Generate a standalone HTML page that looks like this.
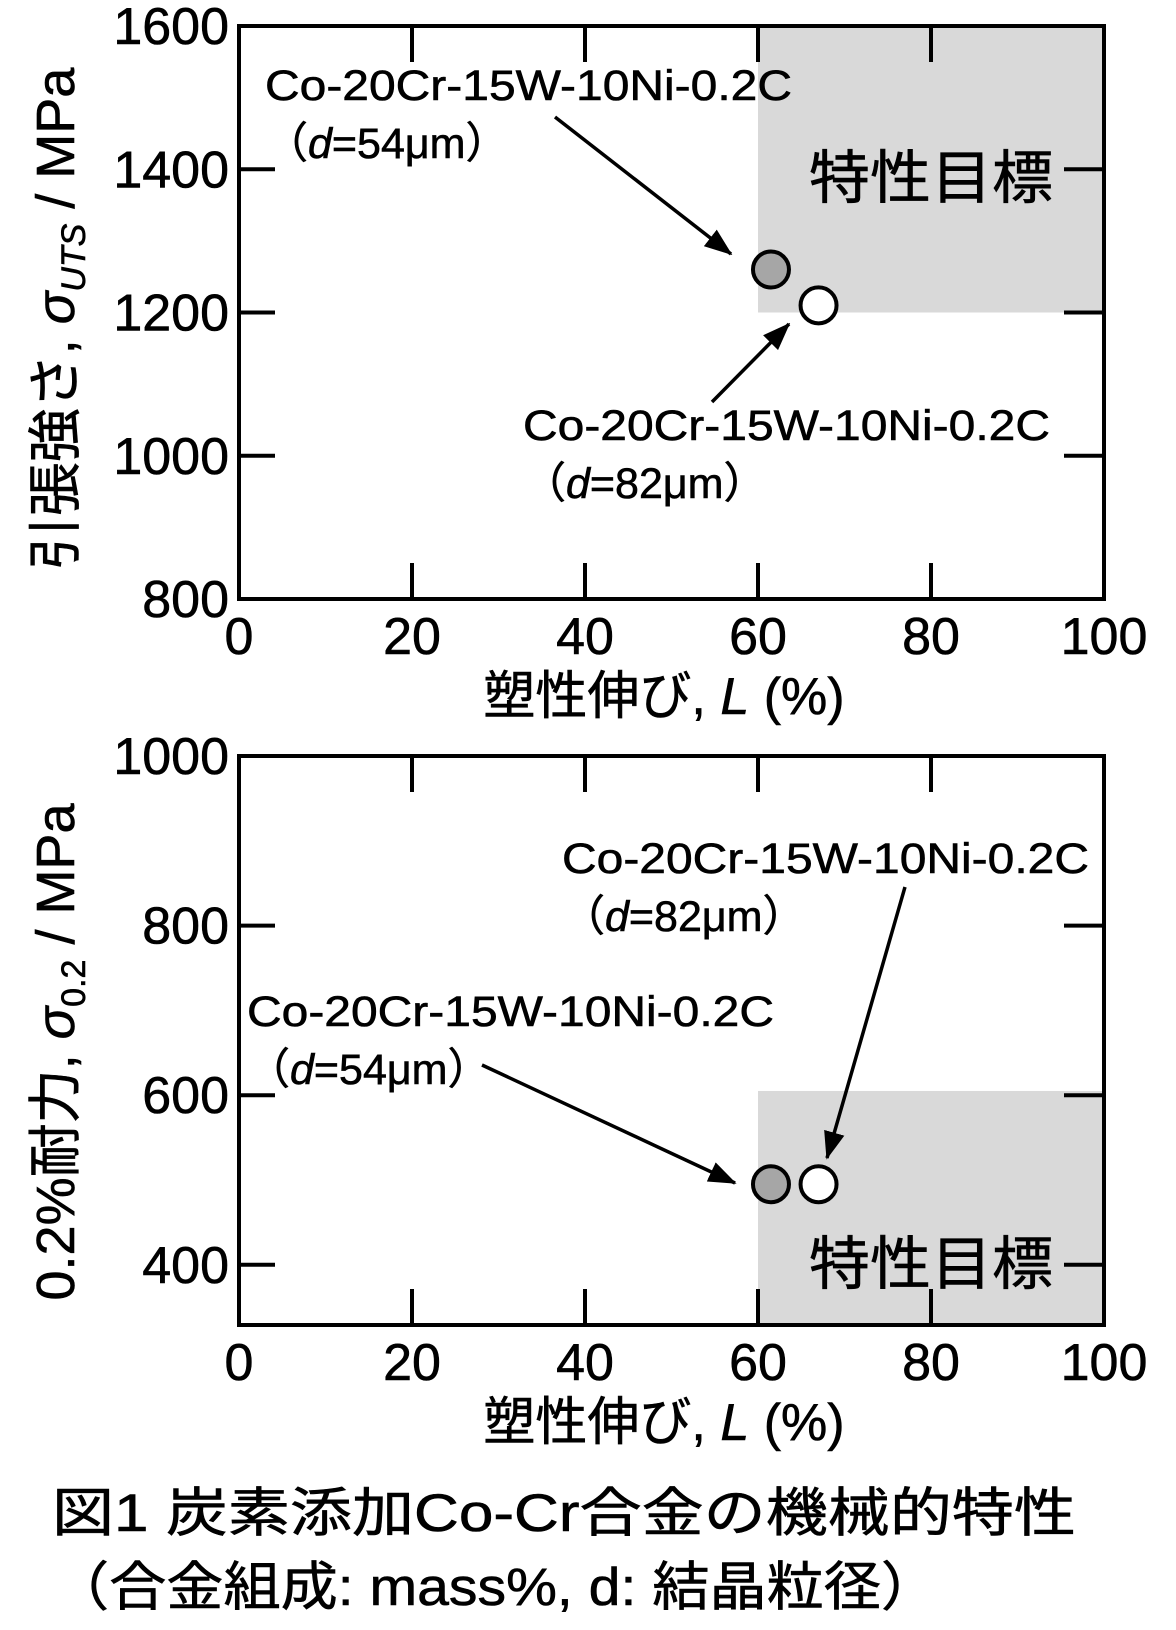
<!DOCTYPE html>
<html><head><meta charset="utf-8"><style>
html,body{margin:0;padding:0;background:#fff;}
svg{display:block;}
text{font-family:"Liberation Sans","Noto Sans CJK JP",sans-serif;fill:#000;stroke:#000;stroke-width:0.6;}
</style></head><body>
<svg id="fig" width="1176" height="1630" viewBox="0 0 1176 1630" xmlns="http://www.w3.org/2000/svg">
<defs><marker id="ah" markerWidth="8" markerHeight="6" refX="7.5" refY="3" orient="auto" markerUnits="strokeWidth"><path d="M0,0 L8,3 L0,6 Z" fill="#000"/></marker></defs>
<g id="c1"></g>
<g id="c2"></g>
<text x="52" y="1531" font-size="53" textLength="1024" lengthAdjust="spacingAndGlyphs">図1 炭素添加Co-Cr合金の機械的特性</text>
<text x="52" y="1605" font-size="53" textLength="886" lengthAdjust="spacingAndGlyphs">（合金組成: mass%, d: 結晶粒径）</text>
</svg>
<script>
// Data
const xTicks = [0, 20, 40, 60, 80, 100];
const yTicksTop = [800, 1000, 1200, 1400, 1600];
const yTicksBottom = [400, 600, 800, 1000];
const elongation = [61.5, 67.0];
const uts = [1260, 1210];
const proof = [495, 495];
const pointFill = ['#a6a6a6', '#ffffff'];
const targetTop = [60, 100, 1200, 1600];
const targetBottom = [60, 100, 329, 605];

const NS = 'http://www.w3.org/2000/svg';
function mk(parent, tag, attrs, txt) {
  const e = document.createElementNS(NS, tag);
  for (const k in attrs) e.setAttribute(k, attrs[k]);
  if (txt !== undefined) e.textContent = txt;
  parent.appendChild(e);
  return e;
}
function chart(g, cfg) {
  const L = 239, R = 1104;
  const sx = v => L + (v - 0) / 100 * (R - L);
  const sy = v => cfg.bot - (v - cfg.ymin) / (cfg.ymax - cfg.ymin) * (cfg.bot - cfg.top);
  const t = cfg.target;
  let r = mk(g, 'rect', {x: sx(t[0]), y: sy(t[3]), width: sx(t[1]) - sx(t[0]), height: sy(t[2]) - sy(t[3]), fill: '#d9d9d9'});
  
  
  let tt = mk(g, 'text', {x: 809, y: cfg.targetY, 'font-size': 58, textLength: 244, lengthAdjust: 'spacingAndGlyphs'}, '特性目標');
  
  
  xTicks.forEach(v => {
    const x = sx(v);
    if (v > 0 && v < 100) {
      mk(g, 'line', {x1: x, x2: x, y1: cfg.top, y2: cfg.top + 36, stroke: '#000', 'stroke-width': 4});
      mk(g, 'line', {x1: x, x2: x, y1: cfg.bot, y2: cfg.bot - 36, stroke: '#000', 'stroke-width': 4});
    }
    const lb = mk(g, 'text', {x: x, y: cfg.bot + 55, 'font-size': 52, 'text-anchor': 'middle'}, String(v));
    
    
  });
  cfg.yticks.forEach(v => {
    const y = sy(v);
    if (v > cfg.ymin && v < cfg.ymax) {
      mk(g, 'line', {x1: L, x2: L + 36, y1: y, y2: y, stroke: '#000', 'stroke-width': 4});
      mk(g, 'line', {x1: R, x2: R - 40, y1: y, y2: y, stroke: '#000', 'stroke-width': 4});
    }
    const lb = mk(g, 'text', {x: 229, y: y + 18, 'font-size': 52, 'text-anchor': 'end'}, String(v));
    
    
  });
  const fr = mk(g, 'rect', {x: L, y: cfg.top, width: R - L, height: cfg.bot - cfg.top, fill: 'none', stroke: '#000', 'stroke-width': 4});
  
  
  cfg.notes.forEach(n => {
    const a = mk(g, 'text', {x: n.x, y: n.y + 15, 'font-size': 43, textLength: 527, lengthAdjust: 'spacingAndGlyphs'}, 'Co-20Cr-15W-10Ni-0.2C');
    
    
    const b = mk(g, 'text', {x: n.x, y: n.y + 73, 'font-size': 43});
    
    
    mk(b, 'tspan', {}, '（');
    mk(b, 'tspan', {'font-style': 'italic'}, 'd');
    mk(b, 'tspan', {}, '=' + n.d + 'μm）');
    const ar = mk(g, 'line', {x1: n.a[0], y1: n.a[1], x2: n.a[2], y2: n.a[3], stroke: '#000', 'stroke-width': 3.5, 'marker-end': 'url(#ah)'});
    
    
  });
  elongation.forEach((xv, i) => {
    const c = mk(g, 'circle', {cx: sx(xv), cy: sy(cfg.vals[i]), r: 18, fill: pointFill[i], stroke: '#000', 'stroke-width': 4});
    
    
  });
  const xt = mk(g, 'text', {x: 664, y: cfg.bot + 115, 'font-size': 52, 'text-anchor': 'middle'});
  
  
  mk(xt, 'tspan', {}, '塑性伸び, ');
  mk(xt, 'tspan', {'font-style': 'italic'}, 'L');
  mk(xt, 'tspan', {}, ' (%)');
  const yt = mk(g, 'text', {x: 0, y: 0, 'font-size': 54, 'text-anchor': 'middle', transform: 'translate(74,' + cfg.ytitleY + ') rotate(-90)'});
  
  
  mk(yt, 'tspan', {}, cfg.yPre);
  mk(yt, 'tspan', {'font-style': 'italic'}, 'σ');
  mk(yt, 'tspan', {'font-size': 34, dy: 11, 'font-style': cfg.subItalic ? 'italic' : 'normal'}, cfg.sub);
  mk(yt, 'tspan', {dy: -11}, ' / MPa');
}
chart(document.getElementById('c1'), {
  top: 26, bot: 599, ymin: 800, ymax: 1600, yticks: yTicksTop, vals: uts, target: targetTop, targetY: 198,
  yPre: '引張強さ, ', sub: 'UTS', subItalic: true, ytitleY: 319,
  notes: [
    {x: 265, y: 85, d: 54, a: [555, 117, 731, 254]},
    {x: 523, y: 425, d: 82, a: [712, 402, 789, 324]}
  ]
});
chart(document.getElementById('c2'), {
  top: 756, bot: 1325, ymin: 329, ymax: 1000, yticks: yTicksBottom, vals: proof, target: targetBottom, targetY: 1284,
  yPre: '0.2%耐力, ', sub: '0.2', subItalic: false, ytitleY: 1052,
  notes: [
    {x: 562, y: 858, d: 82, a: [905, 887, 827, 1158]},
    {x: 247, y: 1011, d: 54, a: [482, 1065, 735, 1183]}
  ]
});
</script>
</body></html>
